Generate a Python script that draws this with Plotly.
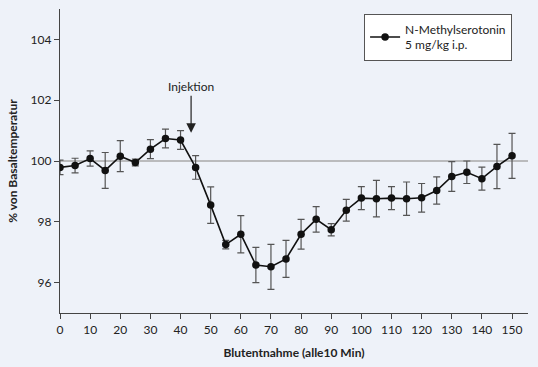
import plotly.graph_objects as go

time_min = [0, 5, 10, 15, 20, 25, 30, 35, 40, 45, 50, 55, 60, 65, 70, 75,
            80, 85, 90, 95, 100, 105, 110, 115, 120, 125, 130, 135, 140, 145, 150]
temp_pct = [99.79, 99.85, 100.08, 99.69, 100.16, 99.95, 100.39, 100.74, 100.69, 99.79,
            98.55, 97.25, 97.59, 96.58, 96.52, 96.78, 97.59, 98.08, 97.74, 98.38,
            98.78, 98.76, 98.78, 98.76, 98.79, 99.03, 99.49, 99.63, 99.42, 99.82, 100.17]
temp_err = [0.24, 0.24, 0.25, 0.59, 0.51, 0.11, 0.31, 0.31, 0.31, 0.39,
            0.60, 0.14, 0.61, 0.58, 0.74, 0.61, 0.49, 0.42, 0.20, 0.36,
            0.38, 0.60, 0.38, 0.55, 0.47, 0.45, 0.49, 0.37, 0.38, 0.73, 0.74]
x_ticks = list(range(0, 151, 10))
y_ticks = [96, 98, 100, 102, 104]
series_name = "N-Methylserotonin<br>5 mg/kg i.p."
injection_time = 43.5
baseline = 100

FONT = "Lato"
BG = "#eef2f9"

fig = go.Figure()
fig.add_shape(type="line", xref="x", yref="y", x0=0, x1=155.3, y0=baseline, y1=baseline,
              line=dict(color="#a8a8a8", width=1.5), layer="below")
fig.add_trace(go.Scatter(
    x=time_min, y=temp_pct, name=series_name, mode="lines+markers",
    line=dict(color="#111111", width=1.6),
    marker=dict(color="#111111", size=7.5),
    error_y=dict(type="data", array=temp_err, visible=True, color="#555555",
                 thickness=1.2, width=3.5),
    showlegend=True,
))
fig.add_annotation(x=injection_time, y=100.93, xref="x", yref="y", text="Injektion",
                   showarrow=True, ax=0, ay=-46, arrowhead=2, arrowsize=1.6,
                   arrowwidth=1.2, arrowcolor="#222222",
                   font=dict(family=FONT, size=12, color="#222222"))
fig.update_layout(
    width=538, height=367,
    margin=dict(l=60, r=10, t=9, b=54, autoexpand=False),
    paper_bgcolor=BG, plot_bgcolor=BG,
    font=dict(family=FONT, size=12, color="#222222"),
    showlegend=True,
    legend=dict(x=0.966, y=0.984, xanchor="right", yanchor="top",
                bgcolor="white", bordercolor="#555555", borderwidth=1,
                font=dict(family=FONT, size=12, color="#222222"),
                itemwidth=30, tracegroupgap=0),
    xaxis=dict(range=[0, 155.3], tickvals=x_ticks, ticks="outside", ticklen=5,
               tickcolor="#444444", showline=True, linecolor="#444444", linewidth=1.2,
               showgrid=False, zeroline=False, automargin=False,
               title=dict(text="<b>Blutentnahme (alle10 Min)</b>", standoff=13,
                          font=dict(family=FONT, size=12))),
    yaxis=dict(range=[95, 105], tickvals=y_ticks, ticks="outside", ticklen=5,
               tickcolor="#444444", showline=True, linecolor="#444444", linewidth=1.2,
               showgrid=False, zeroline=False, automargin=False,
               title=dict(text="<b>% von Basaltemperatur</b>", standoff=10,
                          font=dict(family=FONT, size=12))),
)
fig.write_html("out.html", config={"displayModeBar": False},
               post_script="document.body.style.margin='0';document.body.style.background='%s';" % BG)
